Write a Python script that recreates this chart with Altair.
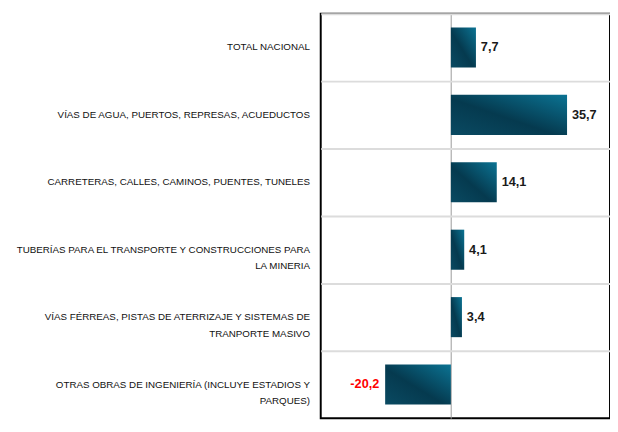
import altair as alt
import pandas as pd

categories = [
    "TOTAL NACIONAL",
    "VÍAS DE AGUA, PUERTOS, REPRESAS, ACUEDUCTOS",
    "CARRETERAS, CALLES, CAMINOS, PUENTES, TUNELES",
    "TUBERÍAS PARA EL TRANSPORTE Y CONSTRUCCIONES PARA|LA MINERIA",
    "VÍAS FÉRREAS, PISTAS DE ATERRIZAJE Y SISTEMAS DE|TRANPORTE MASIVO",
    "OTRAS OBRAS DE INGENIERÍA (INCLUYE ESTADIOS Y|PARQUES)",
]
values = [7.7, 35.7, 14.1, 4.1, 3.4, -20.2]
value_labels = ["7,7", "35,7", "14,1", "4,1", "3,4", "-20,2"]

df = pd.DataFrame({"cat": categories, "value": values, "label": value_labels})
pos_df = df[df["value"] >= 0]
neg_df = df[df["value"] < 0]

W = 296
H = 414
XMIN, XMAX = -40, 48.9

gradient = alt.Gradient(
    gradient="linear",
    stops=[
        alt.GradientStop(color="#0a4a62", offset=0),
        alt.GradientStop(color="#053a4f", offset=0.45),
        alt.GradientStop(color="#0b7393", offset=1),
    ],
    x1=0, y1=1, x2=1, y2=0,
)

y_enc = alt.Y(
    "cat:N",
    scale=alt.Scale(domain=categories, paddingInner=0, paddingOuter=0),
    axis=alt.Axis(
        title=None, labels=False, ticks=False, domain=False, grid=True,
        gridColor="#dcdcdc", gridWidth=2, bandPosition=0,
    ),
)
x_enc = alt.X(
    "value:Q",
    scale=alt.Scale(domain=[XMIN, XMAX], nice=False, zero=False),
    axis=alt.Axis(
        title=None, labels=False, ticks=False, domain=False, grid=True,
        values=[0], gridColor="#999999", gridWidth=1,
    ),
)

bars = alt.Chart(df).mark_bar(color=gradient, size=41).encode(x=x_enc, y=y_enc)

pos_text = alt.Chart(pos_df).mark_text(
    align="left", baseline="middle", dx=5, font="Liberation Sans", fontWeight="bold",
    fontSize=13, color="#1a1a1a"
).encode(x=x_enc, y=y_enc, text="label:N")

neg_text = alt.Chart(neg_df).mark_text(
    align="right", baseline="middle", dx=-6, font="Liberation Sans", fontWeight="bold",
    fontSize=13, color="#ff0000"
).encode(x=x_enc, y=y_enc, text="label:N")

cat_text = alt.Chart(df).mark_text(
    align="right", baseline="middle", lineBreak="|", lineHeight=17,
    font="Liberation Sans", fontSize=10, color="#111111"
).encode(x=alt.value(-11), y=y_enc, text="cat:N")

chart = alt.layer(bars, pos_text, neg_text, cat_text).properties(
    width=W, height=H,
    autosize=alt.AutoSizeParams(type="none"),
    padding={"left": 320, "top": 1, "right": 0, "bottom": 0},
).configure_view(stroke="#000000", strokeWidth=2)

chart.save("out.html", embed_options={"renderer": "svg", "actions": False})
